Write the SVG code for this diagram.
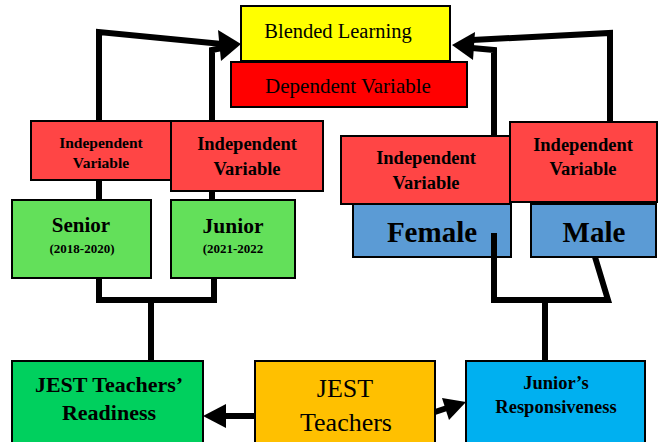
<svg xmlns="http://www.w3.org/2000/svg" width="659" height="442" viewBox="0 0 659 442">
<style>
.box{stroke:#000;stroke-width:2}
.t{font-family:"Liberation Serif","Times New Roman",serif;text-anchor:middle;fill:#000}
.b{font-weight:bold}
.ln{fill:none;stroke:#000;stroke-width:6;stroke-linejoin:miter}
.ah{fill:#000;stroke:none}
</style>
<rect width="659" height="442" fill="#fff"/>
<g id="blended">
<rect class="box" x="241" y="6" width="209" height="55" fill="#FFFF00"/>
<text class="t" x="338" y="38" font-size="20.5">Blended Learning</text>
</g>
<g id="dependent">
<rect class="box" x="231" y="62" width="236" height="45" fill="#FF0000"/>
<text class="t" x="348" y="93" font-size="21">Dependent Variable</text>
</g>
<g id="iv1">
<rect class="box" x="31" y="121" width="140" height="59" fill="#FF4545"/>
<text class="t b" x="101" y="148" font-size="15.5">Independent</text>
<text class="t b" x="101" y="168" font-size="15.5">Variable</text>
</g>
<g id="iv2">
<rect class="box" x="171" y="121" width="152" height="70" fill="#FF4545"/>
<text class="t b" x="247" y="150" font-size="18.5">Independent</text>
<text class="t b" x="247" y="175" font-size="18.5">Variable</text>
</g>
<g id="iv3">
<rect class="box" x="341" y="136" width="169" height="68" fill="#FF4545"/>
<text class="t b" x="426" y="164" font-size="18.5">Independent</text>
<text class="t b" x="426" y="189" font-size="18.5">Variable</text>
</g>
<g id="iv4">
<rect class="box" x="510" y="122" width="147" height="80" fill="#FF4545"/>
<text class="t b" x="583" y="151" font-size="18.5">Independent</text>
<text class="t b" x="583" y="175" font-size="18.5">Variable</text>
</g>
<g id="senior">
<rect class="box" x="12" y="200" width="139" height="78" fill="#63E05A"/>
<text class="t b" x="81" y="232" font-size="21">Senior</text>
<text class="t b" x="82" y="253" font-size="13">(2018-2020)</text>
</g>
<g id="junior">
<rect class="box" x="171" y="200" width="124" height="78" fill="#63E05A"/>
<text class="t b" x="233" y="233" font-size="21.5">Junior</text>
<text class="t b" x="233" y="253" font-size="13">(2021-2022</text>
</g>
<g id="female">
<rect class="box" x="353" y="204" width="158" height="53" fill="#5B9BD5"/>
<text class="t b" x="432" y="242" font-size="29">Female</text>
</g>
<g id="male">
<rect class="box" x="531" y="204" width="125" height="53" fill="#5B9BD5"/>
<text class="t b" x="594" y="242" font-size="29">Male</text>
</g>
<g id="readiness">
<rect class="box" x="12" y="361" width="191" height="90" fill="#00D05E"/>
<text class="t b" x="109" y="392" font-size="22">JEST Teachers’</text>
<text class="t b" x="109" y="420" font-size="22">Readiness</text>
</g>
<g id="jest">
<rect class="box" x="255" y="361" width="180" height="90" fill="#FFC000"/>
<text class="t" x="345" y="397" font-size="26">JEST</text>
<text class="t" x="346" y="431" font-size="26">Teachers</text>
</g>
<g id="responsiveness">
<rect class="box" x="466" y="361" width="179" height="90" fill="#00B0F0"/>
<text class="t b" x="556" y="389" font-size="18.5">Junior’s</text>
<text class="t b" x="556" y="413" font-size="18.5">Responsiveness</text>
</g>
<g id="connectors">
<polyline class="ln" points="99,121 99,32 222,44"/>
<polyline class="ln" points="212,121 212,50 222,48"/>
<polygon class="ah" points="241,44 218,30 221,61"/>
<line class="ln" x1="99" y1="180" x2="99" y2="200"/>
<line class="ln" x1="212" y1="191" x2="212" y2="200"/>
<polyline class="ln" points="99,278 99,300 214,300 214,278"/>
<line class="ln" x1="151" y1="300" x2="151" y2="361"/>
<polyline class="ln" points="610,122 610,33 472,40"/>
<polyline class="ln" points="494,136 494,50 472,48"/>
<polygon class="ah" points="452,45 475,32 473,60"/>
<polyline class="ln" points="494,233 494,300 608,300 595,257"/>
<line class="ln" x1="545" y1="300" x2="545" y2="361"/>
<line class="ln" x1="255" y1="416" x2="222" y2="416"/>
<polygon class="ah" points="203,416 226,404 226,428"/>
<line class="ln" x1="435" y1="412" x2="447" y2="408"/>
<polygon class="ah" points="466,402 442,398 449,420"/>
</g>
</svg>
